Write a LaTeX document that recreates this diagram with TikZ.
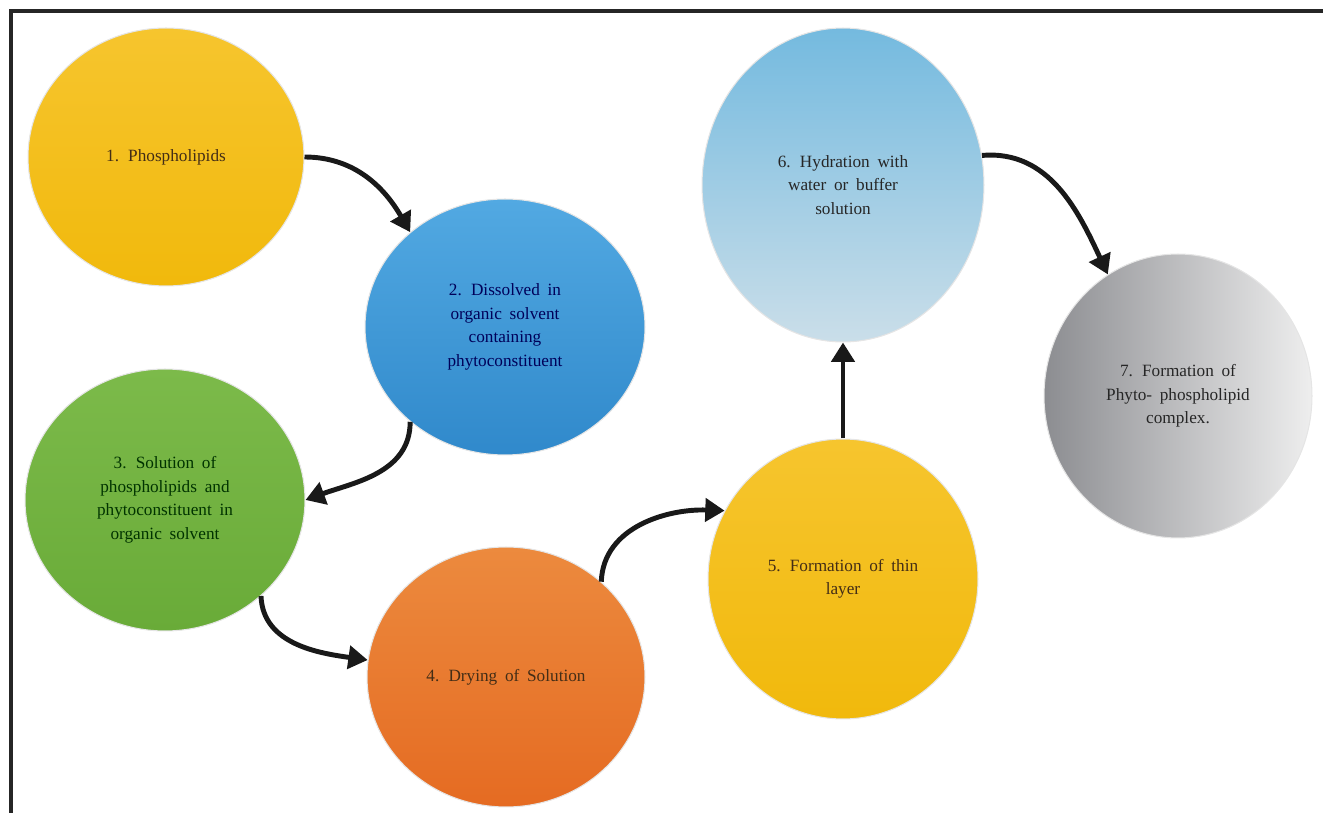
\documentclass[tikz,border=0pt]{standalone}
\usepackage{fontspec}
\setmainfont{Liberation Serif}[WordSpace=1.8]
\usepackage{tikz}
\usetikzlibrary{shapes.geometric}
\usetikzlibrary{arrows.meta}
\definecolor{goldtop}{HTML}{F6C52E}
\definecolor{goldbot}{HTML}{F1B90C}
\definecolor{bluetop}{HTML}{52A9E2}
\definecolor{bluebot}{HTML}{3089CB}
\definecolor{greentop}{HTML}{7CBA4A}
\definecolor{greenbot}{HTML}{69AB38}
\definecolor{orangetop}{HTML}{EC8A3E}
\definecolor{orangebot}{HTML}{E56B22}
\definecolor{skytop}{HTML}{74BADF}
\definecolor{skybot}{HTML}{CADEE9}
\definecolor{greyleft}{HTML}{8C8D91}
\definecolor{greyright}{HTML}{EEEEEE}

\begin{document}
\begin{tikzpicture}[x=0.02cm,y=0.02cm,
  stage/.style={ellipse,inner sep=0pt,draw=black!10,line width=.6pt,align=center,
    font=\fontsize{9.8}{13.4}\selectfont},
  flow/.style={line width=2.8pt,black!90,-{Triangle[length=11pt,width=13pt]}}]
  \useasboundingbox (0,0) rectangle (1323,-813);
  % frame
  \draw[line width=1.8pt,black!85] (11,-813) -- (11,-11) -- (1323,-11);
  % stages
  \node[stage,top color=goldtop,bottom color=goldbot,
    minimum width=5.52cm,minimum height=5.16cm,text=brown!35!black] (s1) at (166,-157) {1. Phospholipids};
  \node[stage,top color=bluetop,bottom color=bluebot,
    minimum width=5.6cm,minimum height=5.12cm,text=blue!35!black] (s2) at (505,-327)
    {2. Dissolved in\\organic solvent\\containing\\phytoconstituent};
  \node[stage,top color=greentop,bottom color=greenbot,
    minimum width=5.6cm,minimum height=5.24cm,text=green!20!black] (s3) at (165,-500)
    {3. Solution of\\phospholipids and\\phytoconstituent in\\organic solvent};
  \node[stage,top color=orangetop,bottom color=orangebot,
    minimum width=5.56cm,minimum height=5.2cm,text=brown!35!black] (s4) at (506,-677) {4. Drying of Solution};
  \node[stage,top color=goldtop,bottom color=goldbot,
    minimum width=5.4cm,minimum height=5.6cm,text=brown!35!black] (s5) at (843,-579) {5. Formation of thin\\layer};
  \node[stage,top color=skytop,bottom color=skybot,
    minimum width=5.64cm,minimum height=6.28cm,text=black!85] (s6) at (843,-185)
    {6. Hydration with\\water or buffer\\solution};
  \node[stage,left color=greyleft,right color=greyright,
    minimum width=5.36cm,minimum height=5.68cm,text=black!85] (s7) at (1178,-396)
    {7. Formation of\\Phyto- phospholipid\\complex.};
  % arrows
  \draw[flow] (s1.east) to[out=0,in=120] (s2.135);
  \draw[flow] (s2.225) to[out=-90,in=20] (s3.east);
  \draw[flow] (s3.-45) to[out=-88,in=172] (s4.173);
  \draw[flow] (s4.45) to[out=88,in=178] (s5.150);
  \draw[flow] (s5.north) -- (s6.south);
  \draw[flow] (s6.12) to[out=5,in=115] (s7.120);
\end{tikzpicture}
\end{document}
